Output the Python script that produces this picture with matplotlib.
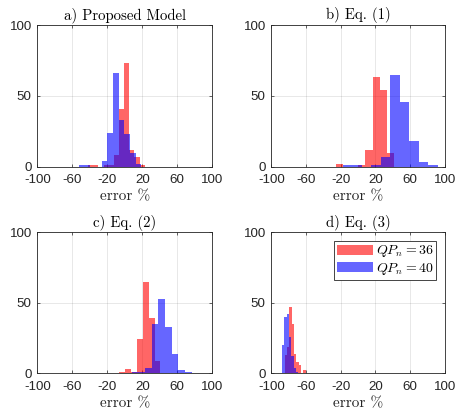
import numpy as np
import matplotlib
matplotlib.use('Agg')
import matplotlib.pyplot as plt

plt.rcParams['font.family'] = 'Liberation Sans'
plt.rcParams['mathtext.fontset'] = 'cm'
plt.rcParams['axes.unicode_minus'] = False

# histogram data: bin edges + counts, QP_n=36 (red) and QP_n=40 (blue)
a_red_edges = [-42.0, -36.1, -30.2, -24.3, -18.4, -12.5, -6.6, -0.7, 5.2, 11.1, 17.0, 22.9]
a_red_counts = [1, 1, 0, 1, 1, 8, 41, 73, 12, 7, 1]
a_blue_edges = [-52.2, -45.8, -39.3, -32.9, -26.4, -20.0, -13.5, -7.1, -0.6, 5.8, 12.3, 18.7]
a_blue_counts = [1, 1, 0, 0, 4, 24, 66, 33, 23, 10, 2]

b_red_edges = [-25.2, -16.8, -8.4, 0.0, 8.4, 16.8, 25.2, 33.6, 42.0]
b_red_counts = [2, 0, 0, 1, 12, 63, 54, 10]
b_blue_edges = [-17.7, -6.7, 4.3, 15.3, 26.3, 37.3, 48.3, 59.3, 70.3, 81.3, 92.3]
b_blue_counts = [1, 1, 0, 1, 7, 65, 46, 18, 3, 1]

c_red_edges = [-6.2, 0.5, 7.2, 13.9, 20.6, 27.3, 34.0, 40.7]
c_red_counts = [1, 3, 1, 24, 65, 39, 9]
c_blue_edges = [7.8, 15.4, 23.0, 30.7, 38.3, 45.9, 53.5, 61.1, 68.7, 76.3]
c_blue_counts = [1, 1, 4, 35, 53, 33, 14, 2, 1]

d_red_edges = [-84.5, -81.8, -79.1, -76.4, -73.7, -71.0, -68.3, -65.6, -62.9, -60.2]
d_red_counts = [13, 19, 47, 35, 14, 8, 6, 0, 2]
d_blue_edges = [-87.8, -85.1, -82.4, -79.7, -77.0, -74.3, -71.6, -68.9]
d_blue_counts = [20, 40, 42, 26, 12, 4, 1]

titles = ['a) Proposed Model', 'b) Eq. (1)', 'c) Eq. (2)', 'd) Eq. (3)']
xticks = [-100, -60, -20, 20, 60, 100]
yticks = [0, 50, 100]

panels = [(a_red_edges, a_red_counts, a_blue_edges, a_blue_counts),
          (b_red_edges, b_red_counts, b_blue_edges, b_blue_counts),
          (c_red_edges, c_red_counts, c_blue_edges, c_blue_counts),
          (d_red_edges, d_red_counts, d_blue_edges, d_blue_counts)]

# axes boxes in figure fractions
pos = [[0.0816, 0.5954, 0.3829, 0.3439],
       [0.5937, 0.5954, 0.3794, 0.3439],
       [0.0816, 0.0939, 0.3829, 0.3422],
       [0.5937, 0.0939, 0.3794, 0.3422]]

dark = '#262626'
fig = plt.figure(figsize=(4.57, 4.12), dpi=100)

for i in range(4):
    ax = fig.add_axes(pos[i])
    re, rc, be, bc = panels[i]
    ax.stairs(rc, re, fill=True, color=(1, 0, 0), alpha=0.6, lw=0, label=r'$QP_n = 36$')
    ax.stairs(bc, be, fill=True, color=(0, 0, 1), alpha=0.6, lw=0, label=r'$QP_n = 40$')
    ax.set_xlim(-100, 100)
    ax.set_ylim(0, 100)
    ax.set_xticks(xticks)
    ax.set_yticks(yticks)
    ax.grid(True, color=dark, alpha=0.15, lw=0.5)
    ax.set_axisbelow(True)
    ax.tick_params(direction='in', length=2.5, width=0.5, top=True, right=True,
                   labelsize=9.6, colors=dark)
    ax.tick_params(axis='x', pad=5.5)
    ax.tick_params(axis='y', pad=4)
    for s in ax.spines.values():
        s.set_color(dark)
        s.set_linewidth(0.6)
    ax.set_title(titles[i], fontfamily='cmr10', fontsize=10.7, pad=4, color='black')
    ax.set_xlabel('error %', fontfamily='cmr10', fontsize=11, labelpad=2.5, color=dark)
    if i == 3:
        leg = ax.legend(loc='upper right', fontsize=10, fancybox=False, framealpha=1,
                        edgecolor=dark, handlelength=2.6, handleheight=0.75,
                        borderpad=0.2, labelspacing=0.1, handletextpad=0.2,
                        borderaxespad=0.6)
        leg.get_frame().set_linewidth(0.6)

fig.savefig('out.png', dpi=100)
